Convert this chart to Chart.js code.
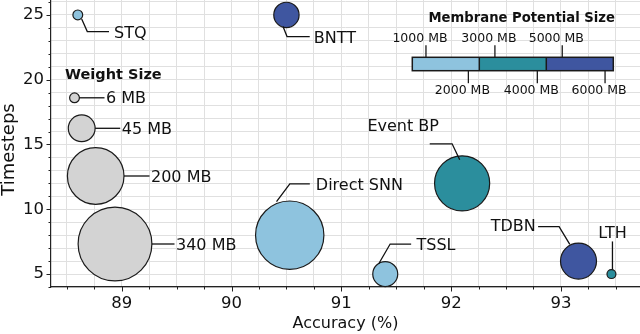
<!DOCTYPE html>
<html><head><meta charset="utf-8">
<script src="https://cdn.jsdelivr.net/npm/chart.js@4.4.1/dist/chart.umd.min.js"></script>
<style>html,body{margin:0;padding:0;background:#fff;}#wrap{width:640px;height:334px;}</style>
</head><body><div id="wrap"><canvas id="c" width="640" height="334"></canvas></div>
<script>
// ---- data ----
const methods     = ['STQ', 'BNTT', 'Direct SNN', 'Event BP', 'TSSL', 'TDBN', 'LTH'];
const accuracy    = [88.60, 90.50, 90.53, 92.10, 91.40, 93.16, 93.46];
const timesteps   = [25, 25, 8, 12, 5, 6, 5];
const weightMB    = [6, 40, 292, 190, 39, 81, 5];
const membraneMB  = [1000, 6000, 2000, 4000, 1000, 5000, 3000];
const weightLegendMB = [6, 45, 200, 340];
const weightLegendLabels = ['6 MB', '45 MB', '200 MB', '340 MB'];
const membraneTickLabels = ['1000 MB', '2000 MB', '3000 MB', '4000 MB', '5000 MB', '6000 MB'];
const xTickLabels = [89, 90, 91, 92, 93];
const yTickLabels = [5, 10, 15, 20, 25];

// ---- style / layout ----
const FONT = 'DejaVu Sans';
const BIN_COLORS = ['#8ec3de', '#2b8e9d', '#3f56a0'];
const GRAY = '#d3d3d3';
const EDGE = '#1a1a1a';
const X_MIN = 88.356, X_MAX = 93.72, Y_MIN = 4.0, Y_MAX = 26.15;

function radiusFor(mb) { return 2 * Math.sqrt(mb); }
function membraneColor(mb) { return mb <= 2000 ? BIN_COLORS[0] : (mb <= 4000 ? BIN_COLORS[1] : BIN_COLORS[2]); }

const xMinor = []; for (let v = 88.5; v <= 93.5; v += 0.25) xMinor.push(v);
const yMinor = []; for (let v = 4; v <= 26; v += 1) yMinor.push(v);

// leader lines: offsets in px from bubble centre
const labelLayout = {
  'STQ':        {pts: [[3.9, 4], [9.5, 16.7], [31.2, 16.7]], tx: 36.2, ty: 18.5, align: 'left'},
  'BNTT':       {pts: [[-3.4, 11.7], [0.6, 21.7], [23.3, 21.7]], tx: 27.3, ty: 23.5, align: 'left'},
  'Direct SNN': {pts: [[-13.2, -33.5], [0.1, -51.2], [20.1, -51.2]], tx: 26.1, ty: -49, align: 'left'},
  'Event BP':   {pts: [[-2.4, -23.5], [-10, -39.5], [-32.4, -39.5]], tx: -58.9, ty: -56, align: 'center'},
  'TSSL':       {pts: [[-6.5, -10.3], [4.9, -30], [25.9, -30]], tx: 31.2, ty: -28.6, align: 'left'},
  'TDBN':       {pts: [[-8.7, -16.7], [-19.4, -34.4], [-40.4, -34.4]], tx: -42.7, ty: -34, align: 'right'},
  'LTH':        {pts: [[1, -4.5], [1, -32.6]], tx: 1, ty: -40.6, align: 'center'}
};
const weightLegendPos = [[74.5, 97.8, 106], [81.7, 128.3, 121.7], [95.7, 176, 151], [115, 244, 176]];

const annotPlugin = {
  id: 'annot',
  afterDatasetsDraw(chart) {
    const ctx = chart.ctx;
    const meta = chart.getDatasetMeta(0);
    ctx.save();
    ctx.strokeStyle = '#111'; ctx.lineWidth = 1.3; ctx.fillStyle = '#111';
    ctx.font = '16px "' + FONT + '"'; ctx.textBaseline = 'middle';
    methods.forEach((m, i) => {
      const el = meta.data[i]; const L = labelLayout[m];
      ctx.beginPath();
      L.pts.forEach((p, k) => { const px = el.x + p[0], py = el.y + p[1]; k ? ctx.lineTo(px, py) : ctx.moveTo(px, py); });
      ctx.stroke();
      ctx.textAlign = L.align;
      ctx.fillText(m, el.x + L.tx, el.y + L.ty);
    });

    // Weight size legend
    ctx.textAlign = 'left';
    ctx.font = 'bold 14.5px "' + FONT + '"';
    ctx.fillText('Weight Size', 65, 75);
    ctx.font = '16px "' + FONT + '"';
    weightLegendMB.forEach((mb, i) => {
      const [cx, cy, tx] = weightLegendPos[i]; const r = radiusFor(mb);
      ctx.beginPath(); ctx.arc(cx, cy, r, 0, Math.PI * 2);
      ctx.fillStyle = GRAY; ctx.fill(); ctx.lineWidth = 1.2; ctx.strokeStyle = EDGE; ctx.stroke();
      ctx.beginPath(); ctx.moveTo(cx + r, cy); ctx.lineTo(tx - 1.5, cy); ctx.lineWidth = 1.3; ctx.strokeStyle = '#111'; ctx.stroke();
      ctx.fillStyle = '#111'; ctx.fillText(weightLegendLabels[i], tx, cy + 1.5);
    });

    // Membrane potential legend (colour bar)
    const bx0 = 412.3, bx1 = 613.3, by0 = 57.3, by1 = 70.7;
    const segW = (bx1 - bx0) / 3;
    BIN_COLORS.forEach((c, k) => { ctx.fillStyle = c; ctx.fillRect(bx0 + k * segW, by0, segW, by1 - by0); });
    ctx.strokeStyle = '#1a1a1a'; ctx.lineWidth = 1.5;
    ctx.strokeRect(bx0, by0, bx1 - bx0, by1 - by0);
    ctx.beginPath();
    for (let k = 1; k < 3; k++) { ctx.moveTo(bx0 + k * segW, by0); ctx.lineTo(bx0 + k * segW, by1); }
    ctx.stroke();
    const tickFrac = [0.068, 0.279, 0.411, 0.622, 0.746, 0.959];
    ctx.lineWidth = 1.3; ctx.fillStyle = '#111'; ctx.textAlign = 'center';
    ctx.font = '12.5px "' + FONT + '"';
    membraneTickLabels.forEach((lab, k) => {
      const tx = bx0 + tickFrac[k] * (bx1 - bx0);
      const up = k % 2 === 0;
      ctx.beginPath();
      if (up) { ctx.moveTo(tx, by0); ctx.lineTo(tx, by0 - 12); } else { ctx.moveTo(tx, by1); ctx.lineTo(tx, by1 + 12.5); }
      ctx.stroke();
      ctx.fillText(lab, tx - 6, up ? 39 : 91.2);
    });
    ctx.font = 'bold 13.2px "' + FONT + '"';
    ctx.fillText('Membrane Potential Size', 521.7, 18.3);

    // tick marks
    const xs = chart.scales.x, ys = chart.scales.y;
    ctx.strokeStyle = '#222'; ctx.lineWidth = 1;
    ctx.beginPath();
    xMinor.forEach(v => { const px = Math.round(xs.getPixelForValue(v)) + 0.5; const len = Number.isInteger(v) ? 4.5 : 2.5;
      ctx.moveTo(px, xs.top); ctx.lineTo(px, xs.top + len); });
    yMinor.forEach(v => { const py = Math.round(ys.getPixelForValue(v)) + 0.5; const len = v % 5 === 0 ? 4.5 : 2.5;
      ctx.moveTo(ys.right, py); ctx.lineTo(ys.right - len, py); });
    ctx.stroke();

    // y axis title
    ctx.save();
    ctx.translate(9.5, 149.5); ctx.rotate(-Math.PI / 2);
    ctx.font = '18px "' + FONT + '"'; ctx.fillStyle = '#111'; ctx.textAlign = 'center'; ctx.textBaseline = 'middle';
    ctx.fillText('Timesteps', 0, 0);
    ctx.restore();
    ctx.restore();
  }
};

const gridColor = '#e0e0e0';
new Chart(document.getElementById('c'), {
  type: 'bubble',
  data: {
    datasets: [{
      data: methods.map((m, i) => ({x: accuracy[i], y: timesteps[i], r: radiusFor(weightMB[i])})),
      backgroundColor: membraneMB.map(membraneColor),
      borderColor: EDGE, borderWidth: 1.2, hoverRadius: 0, clip: false
    }]
  },
  options: {
    responsive: false, animation: false, devicePixelRatio: 1, events: [],
    layout: {padding: 0, autoPadding: false},
    plugins: {legend: {display: false}, tooltip: {enabled: false}},
    scales: {
      x: {
        type: 'linear', min: X_MIN, max: X_MAX,
        afterBuildTicks: s => { s.ticks = xMinor.map(v => ({value: v})); },
        afterFit: s => { s.height = 47; s.paddingLeft = 0; s.paddingRight = 0; },
        ticks: {callback: v => xTickLabels.includes(v) ? String(v) : '', autoSkip: false, maxRotation: 0,
                font: {family: FONT, size: 16.5}, color: '#111', padding: 7},
        grid: {color: gridColor, drawTicks: false, lineWidth: 1},
        border: {display: true, color: '#222', width: 1.2},
        title: {display: true, text: 'Accuracy (%)', font: {family: FONT, size: 16}, color: '#111', padding: {top: 0, bottom: 1}}
      },
      y: {
        type: 'linear', min: Y_MIN, max: Y_MAX,
        afterBuildTicks: s => { s.ticks = yMinor.map(v => ({value: v})); },
        afterFit: s => { s.width = 51; s.paddingTop = 0; s.paddingBottom = 0; },
        ticks: {callback: v => yTickLabels.includes(v) ? String(v) : '', autoSkip: false,
                font: {family: FONT, size: 16.5}, color: '#111', padding: 7},
        grid: {color: gridColor, drawTicks: false, lineWidth: 1},
        border: {display: true, color: '#222', width: 1.2}
      }
    }
  },
  plugins: [annotPlugin]
});
</script></body></html>
